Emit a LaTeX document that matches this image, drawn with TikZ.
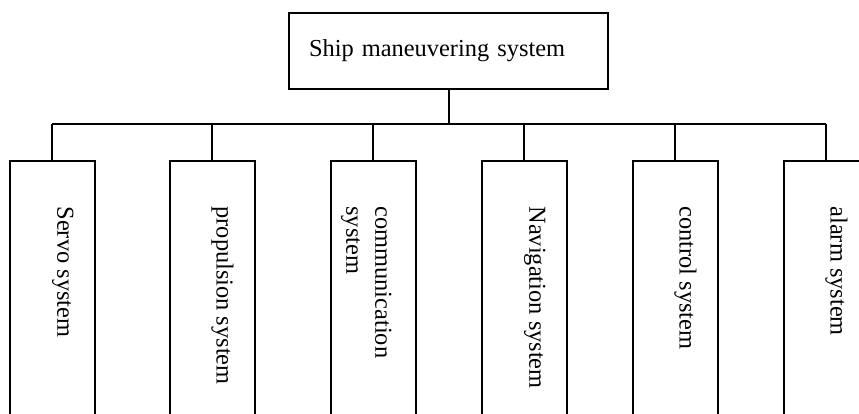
\documentclass[tikz,border=0pt]{standalone}
\usepackage{fontspec}
\setmainfont{Liberation Serif}
\usetikzlibrary{calc,positioning}

\begin{document}
\begin{tikzpicture}[x=1pt,y=-1pt,line width=2pt,
  every node/.style={font=\fontsize{24.4}{29}\selectfont},
  topbox/.style={draw,rectangle,minimum height=76pt,text width=279pt,inner xsep=20pt,align=left},
  subbox/.style={draw,rectangle,minimum width=85pt,minimum height=265pt,anchor=north},
  sublabel/.style={rotate=-90,inner sep=0pt,align=left,anchor=north west}]

  \useasboundingbox (0,0) rectangle (859,414);

  \node[topbox] (ship) at (448.5,51) {Ship maneuvering system};

  \coordinate (busL) at (52,124);
  \coordinate (busR) at (826,124);

  \node[subbox] (servo) at (52,160.5) {};
  \node[subbox] (prop)  at (212,160.5) {};
  \node[subbox] (comm)  at (373,160.5) {};
  \node[subbox] (nav)   at (524,160.5) {};
  \node[subbox] (ctrl)  at (675,160.5) {};
  \node[subbox] (alarm) at (826,160.5) {};

  \node[sublabel] (servo-t) at ([xshift=-21pt,yshift=-45pt]servo.north east) {Servo system};
  \node[sublabel] (prop-t)  at ([xshift=-21pt,yshift=-45pt]prop.north east) {propulsion system};
  \node[sublabel] (comm-t)  at ([xshift=-24pt,yshift=-45pt]comm.north east) {communication\\system};
  \node[sublabel] (nav-t)   at ([xshift=-21pt,yshift=-45pt]nav.north east) {Navigation system};
  \node[sublabel] (ctrl-t)  at ([xshift=-21pt,yshift=-45pt]ctrl.north east) {control system};
  \node[sublabel] (alarm-t) at ([xshift=-21pt,yshift=-45pt]alarm.north east) {alarm system};

  \draw (ship.south) -- (ship.south |- busL);
  \draw (busL) -- (busR);

  \draw (servo.north) -- (servo.north |- busL);
  \draw (prop.north) -- (prop.north |- busL);
  \draw (comm.north) -- (comm.north |- busL);
  \draw (nav.north) -- (nav.north |- busL);
  \draw (ctrl.north) -- (ctrl.north |- busL);
  \draw (alarm.north) -- (alarm.north |- busL);

\end{tikzpicture}
\end{document}
